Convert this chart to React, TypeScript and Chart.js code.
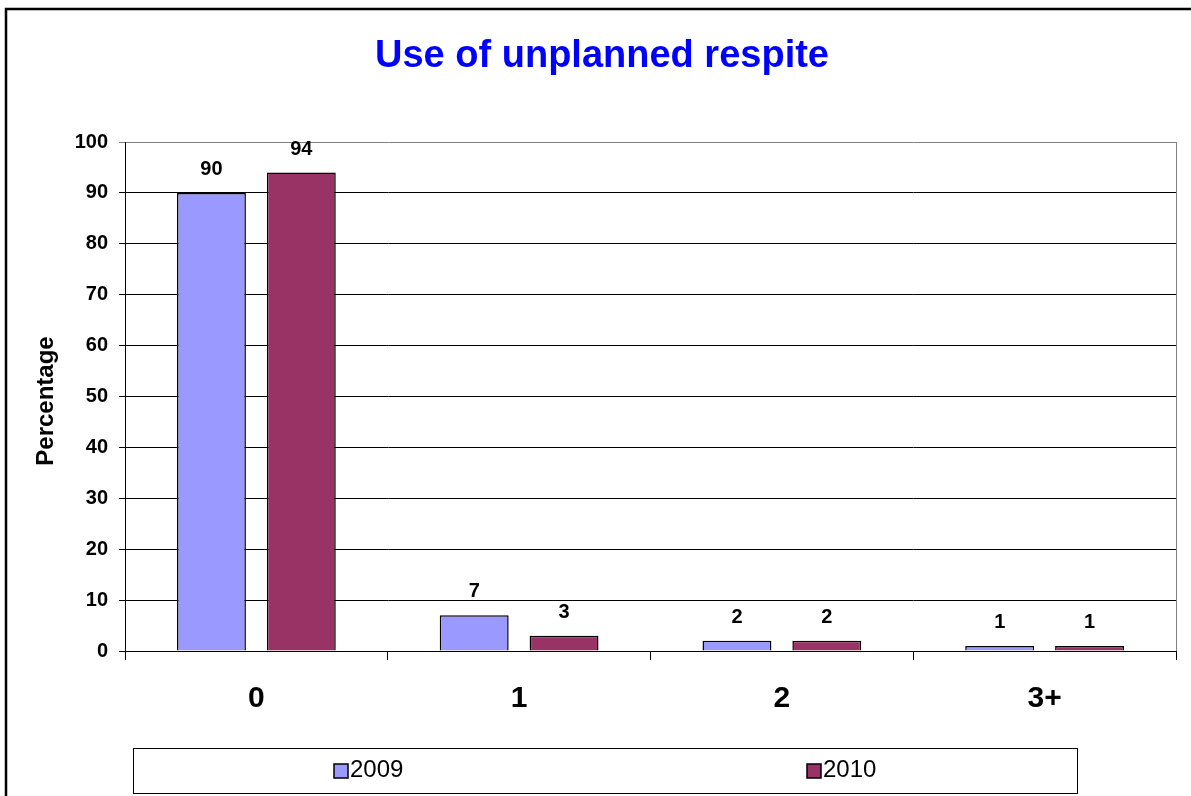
import React, { useEffect, useRef } from "react";
import { Chart, registerables } from "chart.js";

Chart.register(...registerables);

const TITLE = "Use of unplanned respite";
const Y_TITLE = "Percentage";
const categories = ["0", "1", "2", "3+"];
const seriesNames = ["2009", "2010"];
const values2009 = [90, 7, 2, 1];
const values2010 = [94, 3, 2, 1];
const colors = ["#9999FF", "#993366"];

const FONT = "Arial, 'Liberation Sans', sans-serif";

const decorPlugin = {
  id: "decor",
  beforeDraw(chart: any) {
    const ctx = chart.ctx;
    ctx.save();
    ctx.fillStyle = "#ffffff";
    ctx.fillRect(0, 0, chart.width, chart.height);
    ctx.restore();
  },
  afterDatasetsDraw(chart: any) {
    const ctx = chart.ctx;
    const area = chart.chartArea;
    ctx.save();
    // right border of plot area (gray)
    ctx.strokeStyle = "#808080";
    ctx.lineWidth = 1;
    ctx.beginPath();
    ctx.moveTo(Math.round(area.right) + 0.5, area.top);
    ctx.lineTo(Math.round(area.right) + 0.5, area.bottom);
    ctx.stroke();

    // data labels
    ctx.fillStyle = "#000";
    ctx.font = `bold 20px ${FONT}`;
    ctx.textAlign = "center";
    ctx.textBaseline = "alphabetic";
    chart.data.datasets.forEach((ds: any, i: number) => {
      const meta = chart.getDatasetMeta(i);
      meta.data.forEach((bar: any, j: number) => {
        ctx.fillText(String(ds.data[j]), bar.x, bar.y - 18);
      });
    });

    // title
    ctx.fillStyle = "#0000FF";
    ctx.font = `bold 38px ${FONT}`;
    ctx.textBaseline = "middle";
    ctx.fillText(TITLE, 602, 57);

    // y axis title
    ctx.save();
    ctx.translate(46, 401);
    ctx.rotate(-Math.PI / 2);
    ctx.fillStyle = "#000";
    ctx.font = `bold 24px ${FONT}`;
    ctx.textBaseline = "middle";
    ctx.fillText(Y_TITLE, 0, 0);
    ctx.restore();

    // legend box
    ctx.strokeStyle = "#000";
    ctx.lineWidth = 1;
    ctx.strokeRect(133.5, 748.5, 944, 45);
    const legendX = [334, 807];
    ctx.font = `24px ${FONT}`;
    ctx.textAlign = "left";
    ctx.textBaseline = "middle";
    seriesNames.forEach((name, i) => {
      const x = legendX[i];
      ctx.fillStyle = colors[i];
      ctx.fillRect(x, 764, 14, 14);
      ctx.strokeStyle = "#000";
      ctx.lineWidth = 1.5;
      ctx.strokeRect(x, 764, 14, 14);
      ctx.fillStyle = "#000";
      ctx.fillText(name, x + 16, 770);
    });

    // outer border
    ctx.strokeStyle = "#000";
    ctx.lineWidth = 2.5;
    ctx.beginPath();
    ctx.moveTo(6, 800);
    ctx.lineTo(6, 9);
    ctx.lineTo(1200, 9);
    ctx.stroke();
    ctx.restore();
  },
};

export default function App() {
  const ref = useRef<HTMLCanvasElement>(null);
  useEffect(() => {
    if (!ref.current) return;
    const chart = new Chart(ref.current, {
      type: "bar",
      data: {
        labels: categories,
        datasets: [
          {
            label: seriesNames[0],
            data: values2009,
            backgroundColor: colors[0],
            borderColor: "#000",
            borderWidth: 1.5,
            categoryPercentage: 0.684,
            barPercentage: 0.767,
          },
          {
            label: seriesNames[1],
            data: values2010,
            backgroundColor: colors[1],
            borderColor: "#000",
            borderWidth: 1.5,
            categoryPercentage: 0.684,
            barPercentage: 0.767,
          },
        ],
      },
      options: {
        animation: false,
        responsive: false,
        devicePixelRatio: 1,
        layout: { padding: { left: 0, right: 15, top: 142, bottom: 45 } },
        plugins: {
          legend: { display: false },
          title: { display: false },
          tooltip: { enabled: false },
        },
        scales: {
          x: {
            afterFit: (s: any) => {
              s.height = 100;
            },
            grid: {
              offset: true,
              drawOnChartArea: false,
              drawTicks: true,
              tickLength: 9,
              color: "#000",
            },
            border: { color: "#000", width: 1 },
            ticks: {
              color: "#000",
              font: { family: FONT, size: 30, weight: "bold" },
              padding: 21,
            },
          },
          y: {
            min: 0,
            max: 100,
            afterFit: (s: any) => {
              s.width = 125;
            },
            ticks: {
              stepSize: 10,
              color: "#000",
              font: { family: FONT, size: 20, weight: "bold" },
              padding: 11,
            },
            grid: {
              color: (c: any) => (c.tick && c.tick.value === 100 ? "#808080" : "#000"),
              tickLength: 6,
              drawTicks: true,
            },
            border: { color: "#000", width: 1 },
          },
        },
      },
      plugins: [decorPlugin],
    });
    return () => chart.destroy();
  }, []);
  return (
    <div style={{ position: "absolute", left: 0, top: 0, width: 1191, height: 796, background: "#fff" }}>
      <canvas ref={ref} width={1191} height={796} style={{ width: 1191, height: 796 }} />
    </div>
  );
}
